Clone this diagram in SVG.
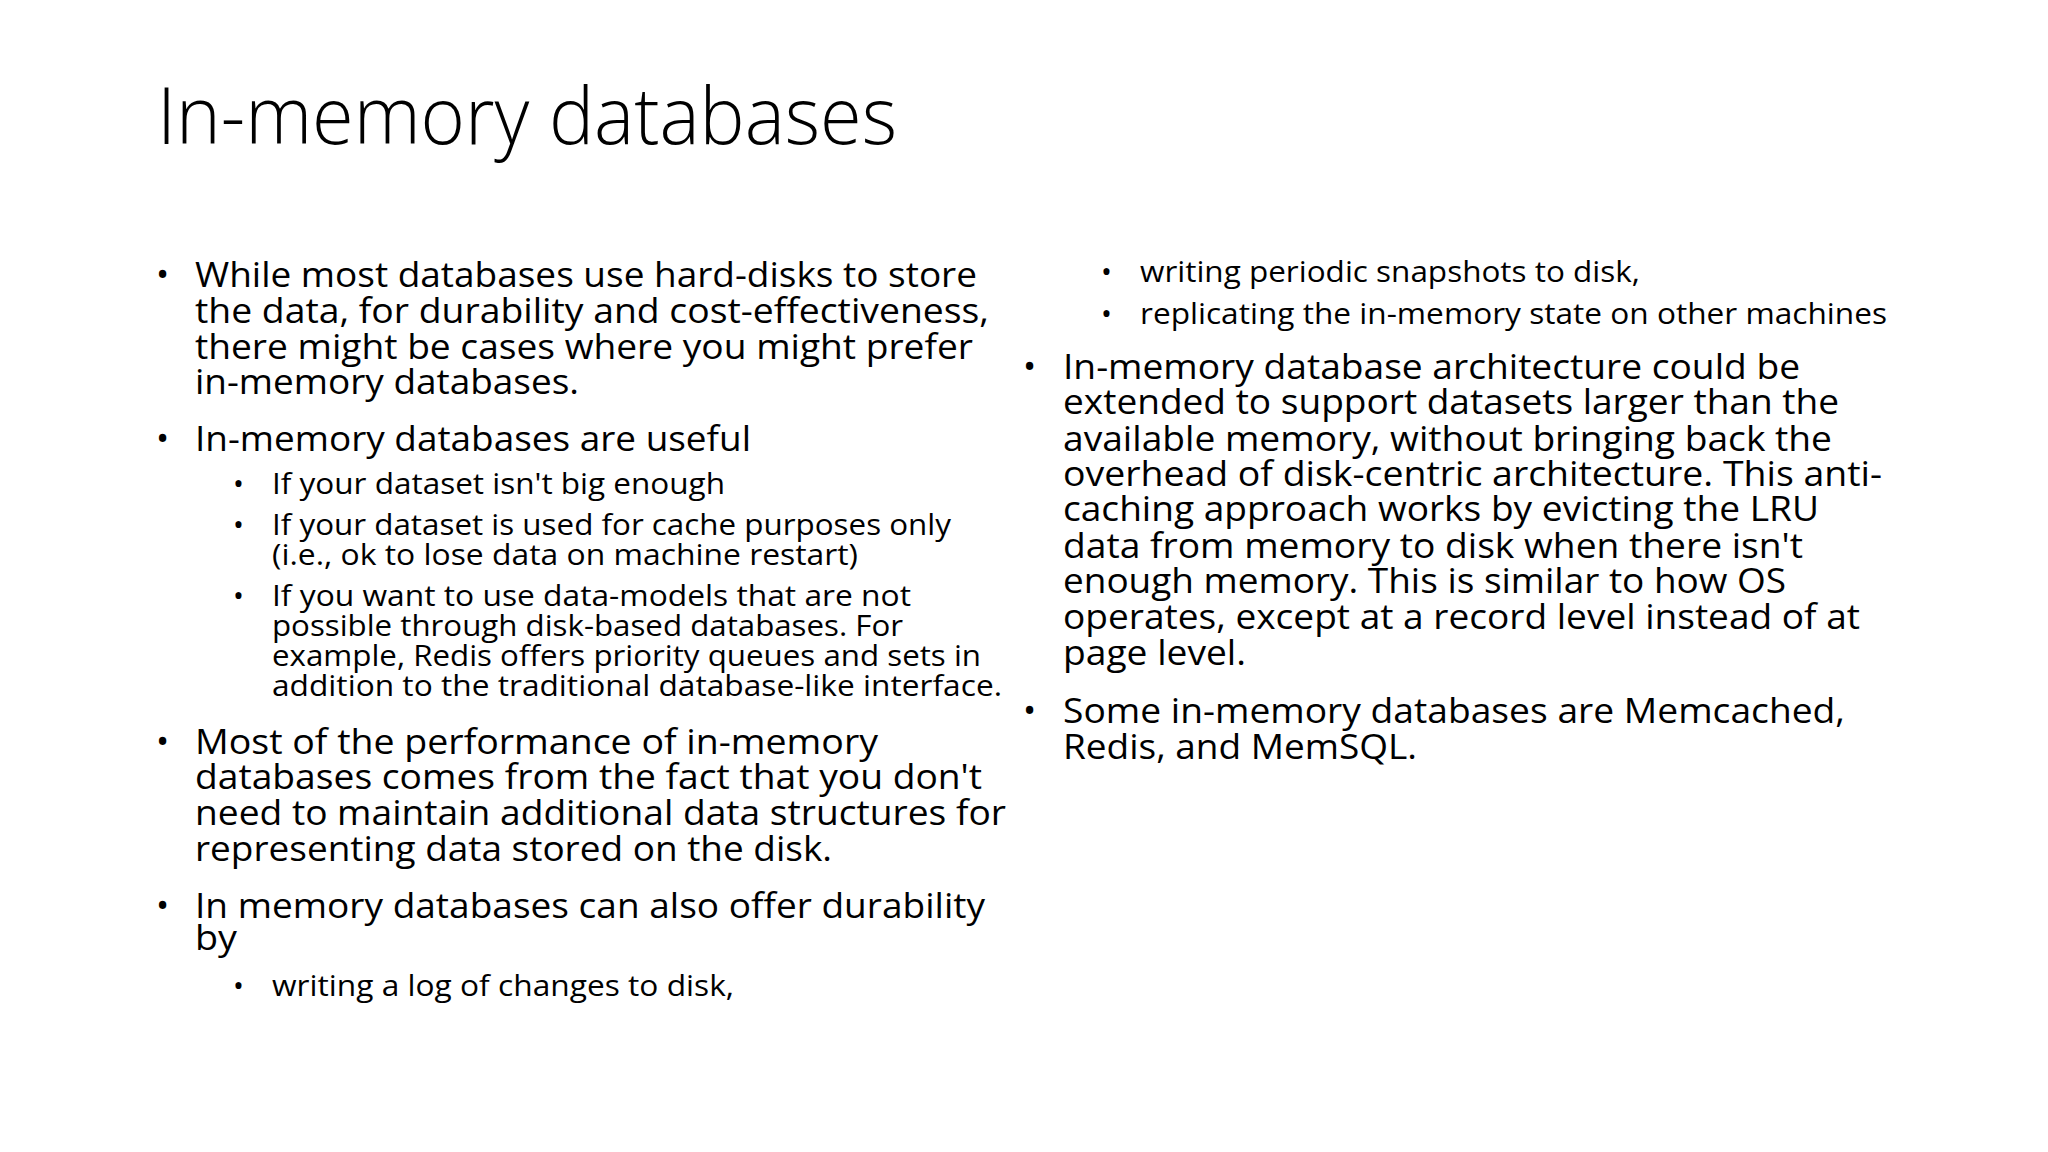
<svg xmlns="http://www.w3.org/2000/svg" width="2048" height="1152" viewBox="0 0 2048 1152">
<style>
text{font-family:"Open Sans","Liberation Sans",sans-serif;fill:#000}
.t{font-size:80px;font-weight:300}
.m{font-size:35px}
.s{font-size:29px}
</style>
<rect width="2048" height="1152" fill="#fff"/>
<g id="title"><text class="t" x="157" y="144" textLength="740" lengthAdjust="spacingAndGlyphs">In-memory databases</text></g>
<g id="left">
<text class="m" x="156" y="287">•</text>
<text class="m" x="195" y="287" textLength="782" lengthAdjust="spacingAndGlyphs">While most databases use hard-disks to store</text>
<text class="m" x="195" y="323" textLength="794" lengthAdjust="spacingAndGlyphs">the data, for durability and cost-effectiveness,</text>
<text class="m" x="195" y="359" textLength="778" lengthAdjust="spacingAndGlyphs">there might be cases where you might prefer</text>
<text class="m" x="195" y="394" textLength="384" lengthAdjust="spacingAndGlyphs">in-memory databases.</text>
<text class="m" x="156" y="451">•</text>
<text class="m" x="195" y="451" textLength="556" lengthAdjust="spacingAndGlyphs">In-memory databases are useful</text>
<text class="s" x="233" y="494">•</text>
<text class="s" x="272" y="494" textLength="453" lengthAdjust="spacingAndGlyphs">If your dataset isn't big enough</text>
<text class="s" x="233" y="535">•</text>
<text class="s" x="272" y="535" textLength="679" lengthAdjust="spacingAndGlyphs">If your dataset is used for cache purposes only</text>
<text class="s" x="272" y="565" textLength="586" lengthAdjust="spacingAndGlyphs">(i.e., ok to lose data on machine restart)</text>
<text class="s" x="233" y="606">•</text>
<text class="s" x="272" y="606" textLength="639" lengthAdjust="spacingAndGlyphs">If you want to use data-models that are not</text>
<text class="s" x="272" y="636" textLength="631" lengthAdjust="spacingAndGlyphs">possible through disk-based databases. For</text>
<text class="s" x="272" y="666" textLength="709" lengthAdjust="spacingAndGlyphs">example, Redis offers priority queues and sets in</text>
<text class="s" x="272" y="696" textLength="730" lengthAdjust="spacingAndGlyphs">addition to the traditional database-like interface.</text>
<text class="m" x="156" y="754">•</text>
<text class="m" x="195" y="754" textLength="683" lengthAdjust="spacingAndGlyphs">Most of the performance of in-memory</text>
<text class="m" x="195" y="789" textLength="787" lengthAdjust="spacingAndGlyphs">databases comes from the fact that you don't</text>
<text class="m" x="195" y="825" textLength="811" lengthAdjust="spacingAndGlyphs">need to maintain additional data structures for</text>
<text class="m" x="195" y="861" textLength="637" lengthAdjust="spacingAndGlyphs">representing data stored on the disk.</text>
<text class="m" x="156" y="918">•</text>
<text class="m" x="195" y="918" textLength="790" lengthAdjust="spacingAndGlyphs">In memory databases can also offer durability</text>
<text class="m" x="195" y="950" textLength="42" lengthAdjust="spacingAndGlyphs">by</text>
<text class="s" x="233" y="996">•</text>
<text class="s" x="272" y="996" textLength="462" lengthAdjust="spacingAndGlyphs">writing a log of changes to disk,</text>
</g>
<g id="right">
<text class="s" x="1101" y="282">•</text>
<text class="s" x="1140" y="282" textLength="500" lengthAdjust="spacingAndGlyphs">writing periodic snapshots to disk,</text>
<text class="s" x="1101" y="324">•</text>
<text class="s" x="1140" y="324" textLength="747" lengthAdjust="spacingAndGlyphs">replicating the in-memory state on other machines</text>
<text class="m" x="1023" y="379">•</text>
<text class="m" x="1063" y="379" textLength="737" lengthAdjust="spacingAndGlyphs">In-memory database architecture could be</text>
<text class="m" x="1063" y="414" textLength="776" lengthAdjust="spacingAndGlyphs">extended to support datasets larger than the</text>
<text class="m" x="1063" y="451" textLength="769" lengthAdjust="spacingAndGlyphs">available memory, without bringing back the</text>
<text class="m" x="1063" y="486" textLength="819" lengthAdjust="spacingAndGlyphs">overhead of disk-centric architecture. This anti-</text>
<text class="m" x="1063" y="521" textLength="756" lengthAdjust="spacingAndGlyphs">caching approach works by evicting the LRU</text>
<text class="m" x="1063" y="558" textLength="740" lengthAdjust="spacingAndGlyphs">data from memory to disk when there isn't</text>
<text class="m" x="1063" y="593" textLength="723" lengthAdjust="spacingAndGlyphs">enough memory. This is similar to how OS</text>
<text class="m" x="1063" y="629" textLength="797" lengthAdjust="spacingAndGlyphs">operates, except at a record level instead of at</text>
<text class="m" x="1063" y="665" textLength="183" lengthAdjust="spacingAndGlyphs">page level.</text>
<text class="m" x="1023" y="723">•</text>
<text class="m" x="1063" y="723" textLength="782" lengthAdjust="spacingAndGlyphs">Some in-memory databases are Memcached,</text>
<text class="m" x="1063" y="759" textLength="354" lengthAdjust="spacingAndGlyphs">Redis, and MemSQL.</text>
</g>
</svg>
